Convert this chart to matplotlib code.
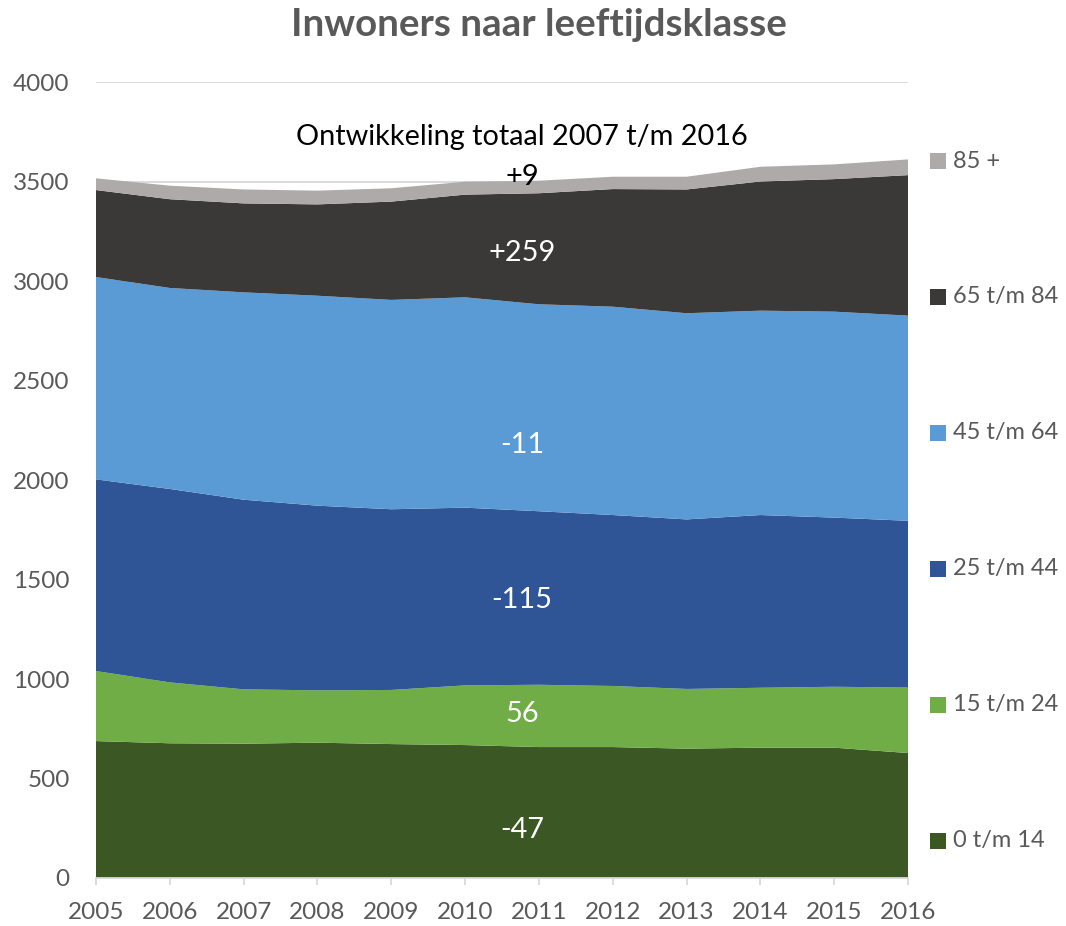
import matplotlib
matplotlib.use("Agg")

import matplotlib.pyplot as plt
from matplotlib.patches import Rectangle

plt.rcParams['font.family'] = ['Lato', 'DejaVu Sans']

years = list(range(2005, 2017))
labels = ["0 t/m 14", "15 t/m 24", "25 t/m 44", "45 t/m 64", "65 t/m 84", "85 +"]
colors = ["#3a5724", "#70ad47", "#2f5597", "#5b9bd5", "#3b3838", "#aeaaaa"]

age_0_14 = [688, 677, 675, 680, 673, 668, 658, 658, 650, 655, 655, 628]
age_15_24 = [352, 306, 273, 263, 272, 300, 313, 307, 300, 301, 306, 329]
age_25_44 = [963, 972, 953, 928, 908, 893, 872, 859, 852, 868, 850, 838]
age_45_64 = [1017, 1010, 1042, 1055, 1052, 1057, 1040, 1047, 1036, 1027, 1035, 1031]
age_65_84 = [437, 446, 447, 459, 494, 516, 558, 591, 622, 649, 666, 706]
age_85_plus = [59, 68, 70, 69, 67, 65, 63, 62, 64, 74, 74, 79]

# ontwikkeling 2007 t/m 2016 per klasse, met positie (y) van het label
changes = ["-47", "56", "-115", "-11", "+259", "+9"]
change_y = [241, 824, 1397, 2176, 3141, 3523]
change_colors = ["white", "white", "white", "white", "white", "black"]

W, H = 1066, 926
fig = plt.figure(figsize=(W / 100, H / 100), dpi=100)
ax = fig.add_axes([96 / W, 1 - 878 / H, (908 - 96) / W, (878 - 82) / H])

series = [age_0_14, age_15_24, age_25_44, age_45_64, age_65_84, age_85_plus]
ax.stackplot(years, *series, colors=colors, labels=labels, zorder=2)

ax.set_xlim(2005, 2016)
ax.set_ylim(0, 4000)
ax.set_xticks(years)
ax.set_yticks(range(0, 4001, 500))
ax.grid(axis='y', color='#d9d9d9', lw=1.3, zorder=0)
ax.set_axisbelow(True)
for s in ['top', 'left', 'right']:
    ax.spines[s].set_visible(False)
ax.spines['bottom'].set_color('#d9d9d9')
ax.spines['bottom'].set_linewidth(1.3)
ax.spines['bottom'].set_zorder(3)
ax.tick_params(axis='y', length=0, pad=19, labelsize=17.5, labelcolor='#595959')
ax.tick_params(axis='x', length=5, width=1.3, color='#d9d9d9', pad=12,
               labelsize=17.5, labelcolor='#595959')

fig.text(539 / W, 1 - 25 / H, "Inwoners naar leeftijdsklasse", ha='center', va='center',
         fontsize=27.7, fontweight='bold', color='#595959')

xlab = 2010.77
ax.text(xlab, 3724, "Ontwikkeling totaal 2007 t/m 2016", ha='center', va='center',
        fontsize=20.8, color='black', zorder=5)
for txt, yv, c in zip(changes, change_y, change_colors):
    ax.text(xlab, yv, txt, ha='center', va='center', fontsize=20.8, color=c, zorder=5)

# legenda rechts, van boven naar beneden
for i, (lab, col) in enumerate(zip(labels[::-1], colors[::-1])):
    yc = 161 + i * 136
    fig.patches.append(Rectangle((930 / W, 1 - (yc + 8) / H), 16 / W, 16 / H,
                                 transform=fig.transFigure, facecolor=col, edgecolor='none'))
    fig.text(953 / W, 1 - yc / H, lab, ha='left', va='center', fontsize=17, color='#595959')

plt.savefig("out.png", dpi=100)
